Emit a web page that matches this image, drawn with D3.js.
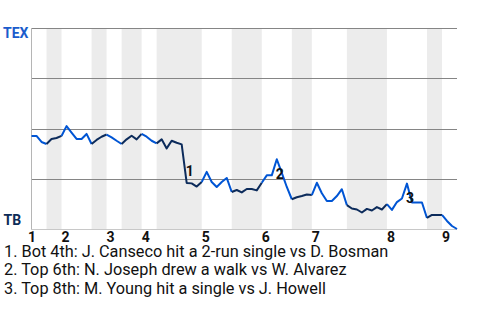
<!DOCTYPE html>
<html>
<head>
<meta charset="utf-8">
<script src="https://cdn.jsdelivr.net/npm/d3@7"></script>
<style>
  body { margin: 0; background: #fff; }
  svg { font-family: Roboto, "Noto Sans", sans-serif; }
</style>
</head>
<body>
<div class="chart"></div>
<script>
var width = 480;
var height = 320;

// data
var teams = ["TEX", "TB"];
var innings = ["1", "2", "3", "4", "5", "6", "7", "8", "9"];
var inningStart = [0, 6, 15, 22, 34, 46, 56, 71, 82];
// play index where each half inning begins (top, bottom, top, ...)
var halfBounds = [0, 3, 6, 12, 15, 18, 22, 25, 34, 40, 46, 52, 56, 63, 71, 79, 82, 85];
// TEX win probability (%) after each play
var winProb = [
  46.3, 46.3, 43.3, 42.3, 44.8, 45.3, 46.3, 51.2, 48.0, 44.8,
  44.8, 47.3, 42.3, 44.3, 45.9, 47.0, 45.6, 43.9, 42.3, 44.6,
  46.4, 44.6, 47.3, 45.9, 43.9, 42.6, 44.6, 40.1, 43.9, 42.9,
  42.1, 22.9, 22.7, 21.1, 23.4, 28.4, 23.4, 20.9, 23.4, 25.4,
  18.4, 19.4, 18.2, 19.9, 19.9, 19.2, 23.0, 26.7, 26.7, 34.7,
  27.9, 20.9, 14.8, 15.8, 16.4, 17.2, 16.9, 23.0, 17.8, 13.9,
  13.9, 16.4, 19.8, 11.9, 10.2, 9.7, 8.2, 10.0, 9.2, 10.9,
  9.7, 12.4, 9.5, 13.4, 15.2, 22.6, 13.2, 13.2, 13.2, 5.5,
  7.0, 7.0, 7.0, 4.0, 1.5, 0
];
var noteIdx = [31, 49, 75];
var noteText = [
  "Bot 4th: J. Canseco hit a 2-run single vs D. Bosman",
  "Top 6th: N. Joseph drew a walk vs W. Alvarez",
  "Top 8th: M. Young hit a single vs J. Howell"
];
var gridValues = [25, 50, 75, 100];

var topColor = "#0055d4";
var botColor = "#0c2b5b";

var svg = d3
  .select(".chart")
  .append("svg")
  .attr("width", width)
  .attr("height", height);

var xScale = d3.scaleLinear().domain([0, winProb.length - 1]).range([31.5, 457]);
var yScale = d3.scaleLinear().domain([0, 100]).range([229, 28]);

// bands for bottom halves
var halves = d3.range(halfBounds.length - 1).map((h) => ({
  h: h,
  a: halfBounds[h],
  b: halfBounds[h + 1],
}));

svg
  .append("g")
  .selectAll("rect")
  .data(halves.filter((d) => d.h % 2 == 1))
  .enter()
  .append("rect")
  .attr("x", (d) => xScale(d.a))
  .attr("y", yScale(100))
  .attr("width", (d) => xScale(d.b) - xScale(d.a))
  .attr("height", yScale(0) - yScale(100))
  .style("fill", "#ececec");

// gridlines
svg
  .append("g")
  .selectAll("line")
  .data(gridValues)
  .enter()
  .append("line")
  .attr("x1", xScale(0))
  .attr("x2", xScale(winProb.length - 1))
  .attr("y1", (d) => Math.round(yScale(d)) + 0.5)
  .attr("y2", (d) => Math.round(yScale(d)) + 0.5)
  .style("stroke", "#858585")
  .style("stroke-width", 1.2);

// axes lines
svg
  .append("line")
  .attr("x1", 31.5)
  .attr("x2", 31.5)
  .attr("y1", yScale(100))
  .attr("y2", yScale(0) + 1)
  .style("stroke", "#b5b5b5");
svg
  .append("line")
  .attr("x1", 31)
  .attr("x2", xScale(winProb.length - 1))
  .attr("y1", yScale(0) + 0.5)
  .attr("y2", yScale(0) + 0.5)
  .style("stroke", "#c8c8c8");

// team labels
svg
  .append("text")
  .attr("x", 3)
  .attr("y", yScale(100) + 10)
  .text(teams[0])
  .style("font-size", "14px")
  .style("font-weight", "bold")
  .style("fill", "#1a5ccc");
svg
  .append("text")
  .attr("x", 3.5)
  .attr("y", yScale(0) - 4)
  .text(teams[1])
  .style("font-size", "14px")
  .style("font-weight", "bold")
  .style("fill", "#0d2b57");

// line, one path per half inning
var line = d3
  .line()
  .x((d) => xScale(d))
  .y((d) => yScale(winProb[d]));

svg
  .append("g")
  .selectAll("path")
  .data(halves)
  .enter()
  .append("path")
  .attr("d", (d) => line(d3.range(d.a, d.b + 1)))
  .style("fill", "none")
  .style("stroke", (d) => (d.h % 2 == 0 ? topColor : botColor))
  .style("stroke-width", 2)
  .style("stroke-linejoin", "round");

// inning labels
svg
  .append("g")
  .selectAll("text")
  .data(innings)
  .enter()
  .append("text")
  .attr("x", (d, i) => xScale(inningStart[i]) - (i == 0 ? 3.5 : 0))
  .attr("y", 241.5)
  .text((d) => d)
  .style("font-size", "14px")
  .style("font-weight", "bold")
  .style("fill", "#111");

// play markers
svg
  .append("g")
  .selectAll("text")
  .data(noteIdx)
  .enter()
  .append("text")
  .attr("x", (d) => xScale(d) - 1)
  .attr("y", (d) => (yScale(winProb[d - 1]) + yScale(winProb[d])) / 2 + 12)
  .text((d, i) => i + 1)
  .style("font-size", "14px")
  .style("font-weight", "bold")
  .style("fill", "#111");

// notes
svg
  .append("g")
  .selectAll("text")
  .data(noteText)
  .enter()
  .append("text")
  .attr("x", 4)
  .attr("y", (d, i) => 257 + i * 18.3)
  .text((d, i) => i + 1 + ". " + d)
  .style("font-size", "16.3px")
  .style("fill", "#111");
</script>
</body>
</html>
